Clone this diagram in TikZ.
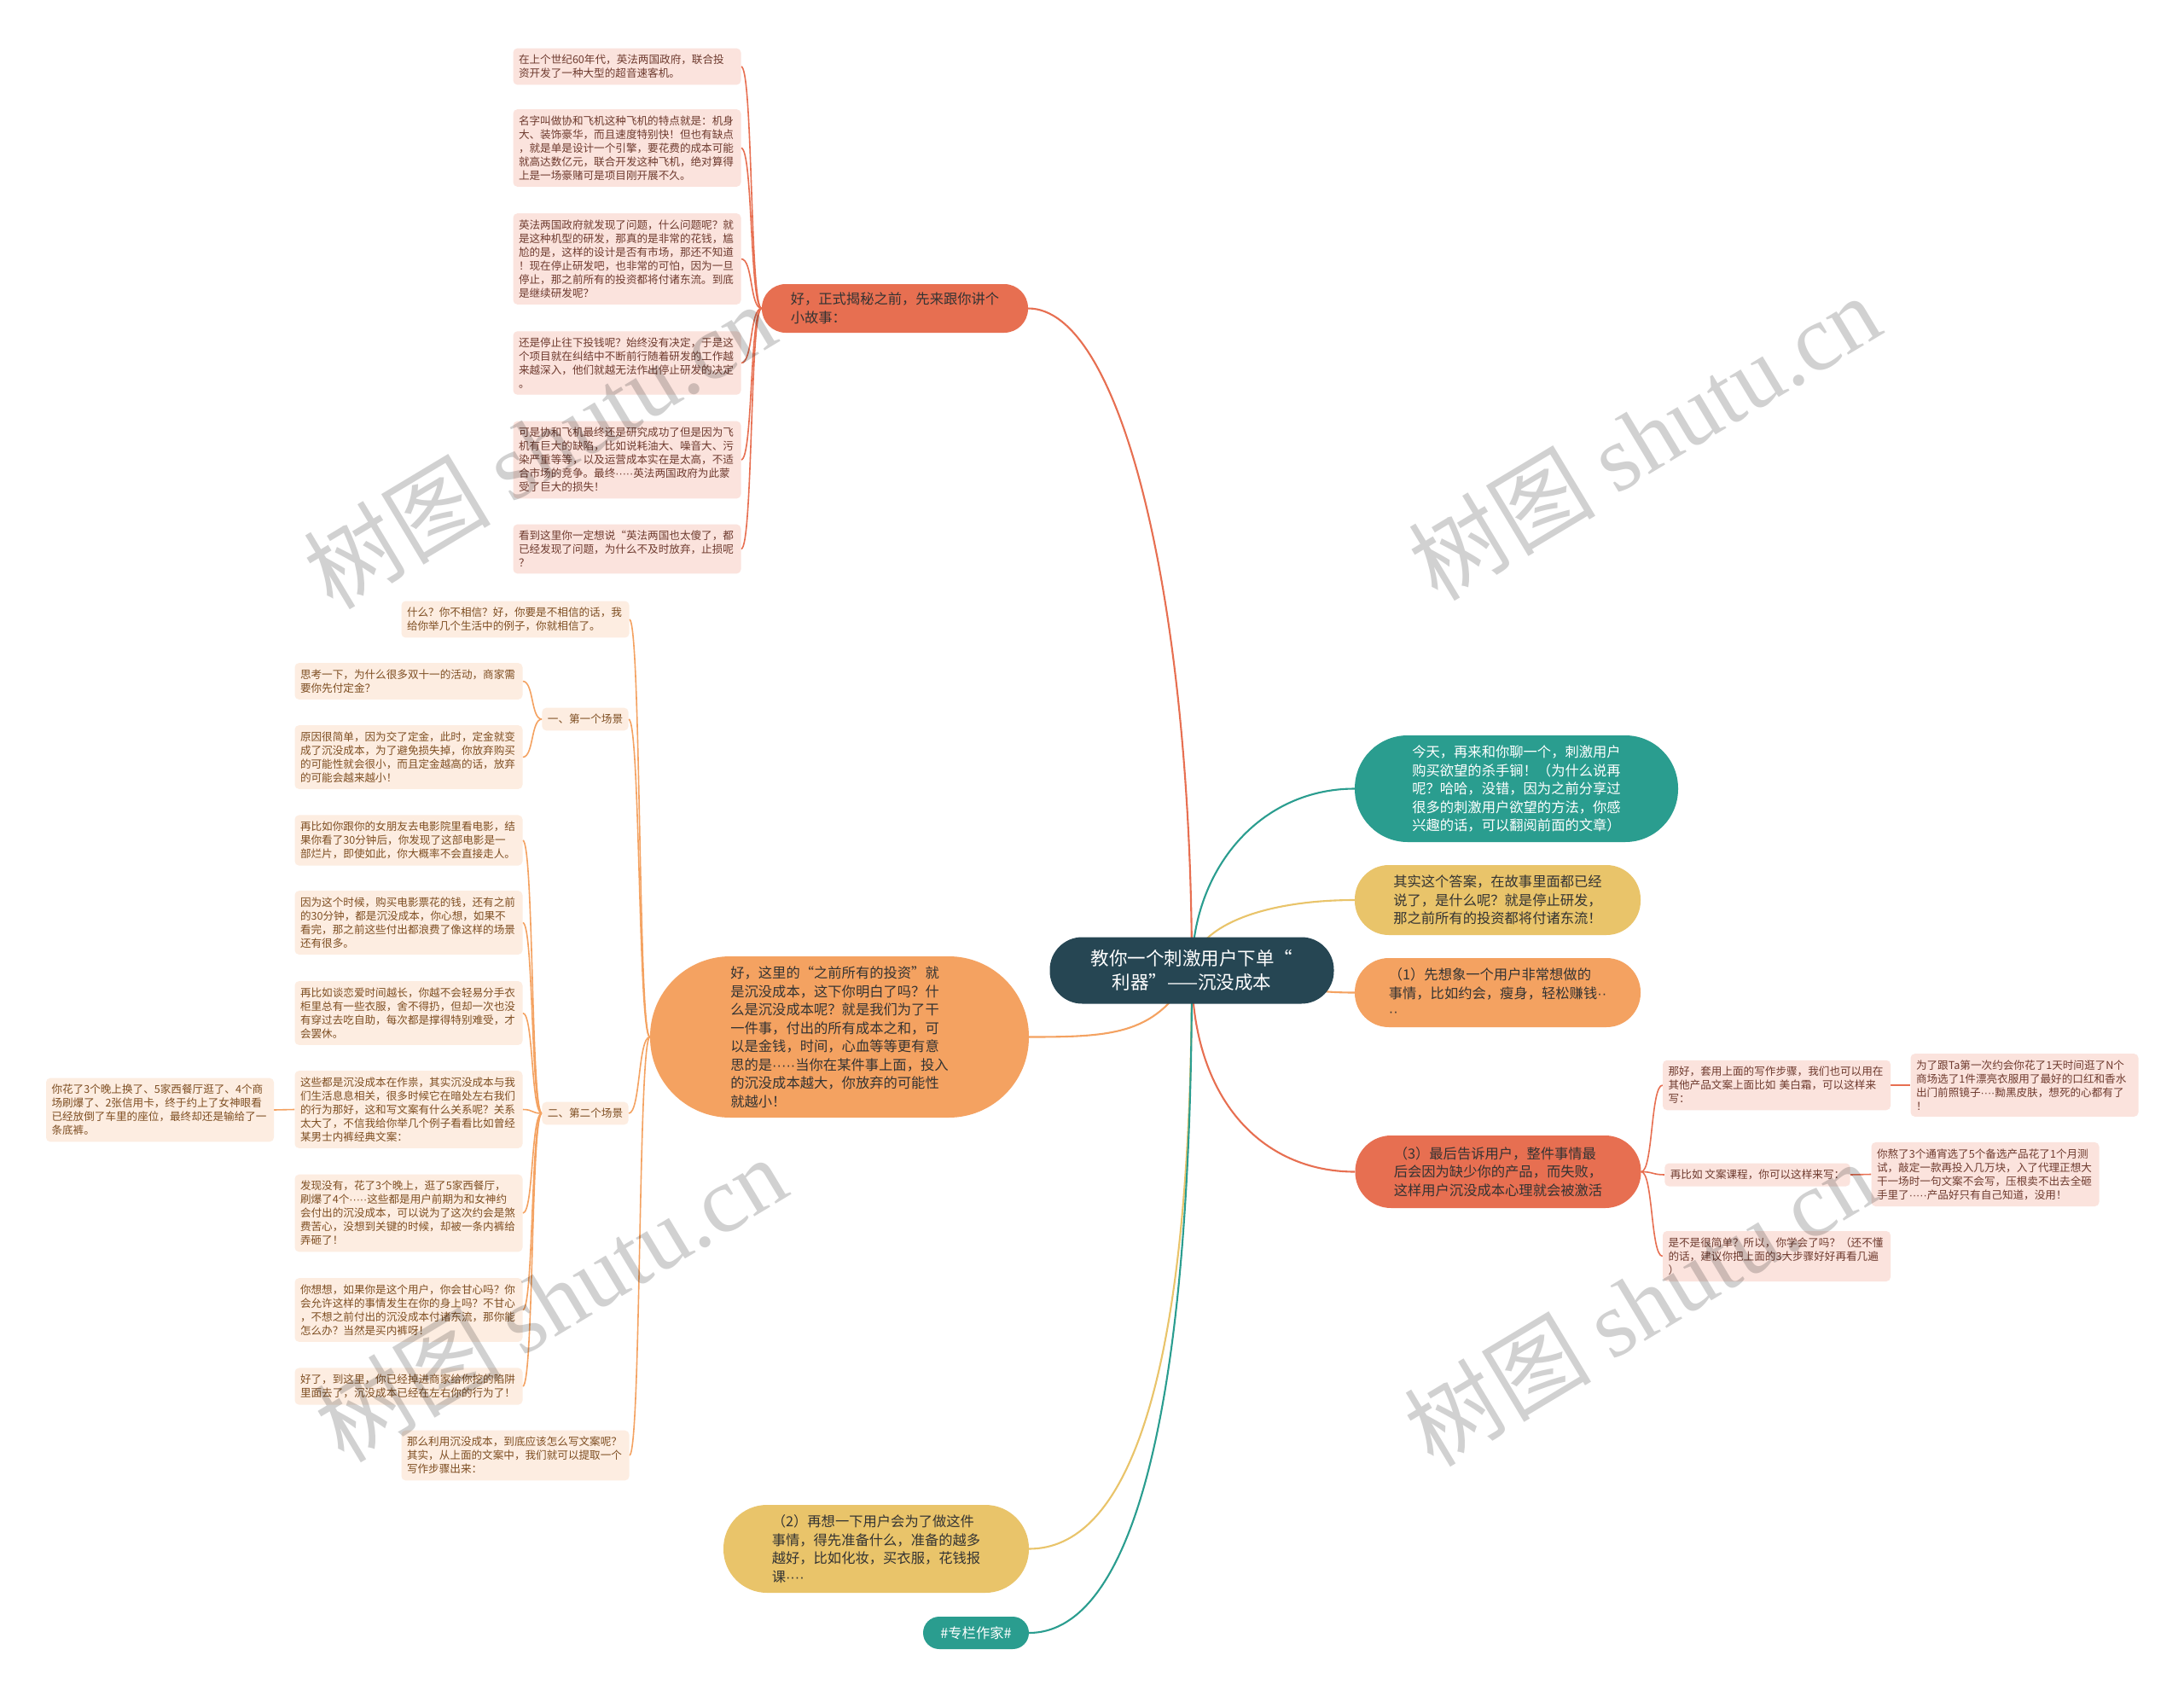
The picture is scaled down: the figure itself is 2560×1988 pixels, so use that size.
\documentclass[tikz,border=0pt]{standalone}
\usepackage{fontspec}
\setmainfont{Noto Sans CJK SC}
\newfontfamily\wmserif{Liberation Serif}
\newfontfamily\dotf{Liberation Sans}
\usetikzlibrary{backgrounds}
\definecolor{cRoot}{HTML}{264653}
\definecolor{cTeal}{HTML}{2A9D8F}
\definecolor{cYel}{HTML}{E9C46A}
\definecolor{cOra}{HTML}{F4A261}
\definecolor{cRed}{HTML}{E76F51}
\definecolor{cRedLeaf}{HTML}{FBE3DD}
\definecolor{cOraLeaf}{HTML}{FDEDE1}
\definecolor{cRedTxt}{HTML}{6E3A2E}
\definecolor{cOraTxt}{HTML}{7E4E22}
\definecolor{cDark}{HTML}{333333}
\begin{document}
\begin{tikzpicture}[x=1pt,y=-1pt,
  leaf/.style={rectangle, rounded corners=5pt, inner xsep=6.5pt, inner ysep=7.5pt, align=left, font=\fontsize{12.6}{16}\selectfont},
  wideleaf/.style={leaf, text width=254pt},
  rl/.style={wideleaf, fill=cRedLeaf, text=cRedTxt},
  ol/.style={wideleaf, fill=cOraLeaf, text=cOraTxt},
  pill/.style n args={3}{rectangle, inner sep=0pt, minimum width=#1, minimum height=#2, rounded corners=#3, align=left, font=\fontsize{16.3}{21.5}\selectfont, text=cDark},
  mainedge/.style={line width=2.1pt},
  subedge/.style={line width=1.6pt},
  wm/.style={rotate=31, text=black, opacity=0.18, font=\fontsize{110}{110}\selectfont}
]
\begin{scope}[on background layer]
\fill[white] (0,0) rectangle (2560,1988);
\end{scope}
\useasboundingbox (0,0) rectangle (2560,1988);

% root and main branches
\node[pill={333pt}{78pt}{38pt}, fill=cRoot, text=white, align=center, font=\fontsize{21.5}{28}\selectfont] (root) at (1397,1137.5) {教你一个刺激用户下单“\\利器”——沉没成本};
\node[pill={312pt}{57pt}{28pt}, fill=cRed] (b1) at (1049,361.5) {好，正式揭秘之前，先来跟你讲个\\小故事：};
\node[pill={379pt}{125pt}{62pt}, fill=cTeal, text=white] (teal) at (1777.5,924.5) {今天，再来和你聊一个，刺激用户\\购买欲望的杀手锏！（为什么说再\\呢？哈哈，没错，因为之前分享过\\很多的刺激用户欲望的方法，你感\\兴趣的话，可以翻阅前面的文章）};
\node[pill={335pt}{82pt}{40pt}, fill=cYel] (yel1) at (1755.5,1055) {其实这个答案，在故事里面都已经\\说了，是什么呢？就是停止研发，\\那之前所有的投资都将付诸东流！};
\node[pill={335pt}{81pt}{40pt}, fill=cOra] (ora1) at (1755.5,1163.5) {（1）先想象一个用户非常想做的\\事情，比如约会，瘦身，轻松赚钱{\dotf ··}\\{\dotf ··}};
\node[pill={335pt}{85pt}{42pt}, fill=cRed] (red3) at (1756,1373.5) {（3）最后告诉用户，整件事情最\\后会因为缺少你的产品，而失败，\\这样用户沉没成本心理就会被激活};
\node[pill={444pt}{189pt}{94pt}, fill=cOra] (lm) at (984,1215.5) {好，这里的“之前所有的投资”就\\是沉没成本，这下你明白了吗？什\\么是沉没成本呢？就是我们为了干\\一件事，付出的所有成本之和，可\\以是金钱，时间，心血等等更有意\\思的是{\dotf ·····}当你在某件事上面，投入\\的沉没成本越大，你放弃的可能性\\就越小！};
\node[pill={358pt}{103pt}{51pt}, fill=cYel] (yel2) at (1027,1815.5) {（2）再想一下用户会为了做这件\\事情，得先准备什么，准备的越多\\越好，比如化妆，买衣服，花钱报\\课{\dotf ····}};
\node[pill={124pt}{38pt}{19pt}, fill=cTeal, text=white, align=center] (tag) at (1144,1914) {\#专栏作家\#};

% story leaves
\node[rl] (L1) at (735,78) {在上个世纪60年代，英法两国政府，联合投\\资开发了一种大型的超音速客机。};
\node[rl] (L2) at (735,173.5) {名字叫做协和飞机这种飞机的特点就是：机身\\大、装饰豪华，而且速度特别快！但也有缺点\\，就是单是设计一个引擎，要花费的成本可能\\就高达数亿元，联合开发这种飞机，绝对算得\\上是一场豪赌可是项目刚开展不久。};
\node[rl] (L3) at (735,303.5) {英法两国政府就发现了问题，什么问题呢？就\\是这种机型的研发，那真的是非常的花钱，尴\\尬的是，这样的设计是否有市场，那还不知道\\！现在停止研发吧，也非常的可怕，因为一旦\\停止，那之前所有的投资都将付诸东流。到底\\是继续研发呢？};
\node[rl] (L4) at (735,425.5) {还是停止往下投钱呢？始终没有决定，于是这\\个项目就在纠结中不断前行随着研发的工作越\\来越深入，他们就越无法作出停止研发的决定\\。};
\node[rl] (L5) at (735,539) {可是协和飞机最终还是研究成功了但是因为飞\\机有巨大的缺陷，比如说耗油大、噪音大、污\\染严重等等，以及运营成本实在是太高，不适\\合市场的竞争。最终{\dotf ·····}英法两国政府为此蒙\\受了巨大的损失！};
\node[rl] (L6) at (735,643.5) {看到这里你一定想说“英法两国也太傻了，都\\已经发现了问题，为什么不及时放弃，止损呢\\？};

% left branch
\node[ol] (A1) at (604,726) {什么？你不相信？好，你要是不相信的话，我\\给你举几个生活中的例子，你就相信了。};
\node[leaf, fill=cOraLeaf, text=cOraTxt] (S1) at (686,843) {一、第一个场景};
\node[ol] (S1a) at (479,798.5) {思考一下，为什么很多双十一的活动，商家需\\要你先付定金？};
\node[ol] (S1b) at (479,887.5) {原因很简单，因为交了定金，此时，定金就变\\成了沉没成本，为了避免损失掉，你放弃购买\\的可能性就会很小，而且定金越高的话，放弃\\的可能会越来越小！};
\node[leaf, fill=cOraLeaf, text=cOraTxt] (S2) at (686,1305) {二、第二个场景};
\node[ol] (S2a) at (479,985) {再比如你跟你的女朋友去电影院里看电影，结\\果你看了30分钟后，你发现了这部电影是一\\部烂片，即使如此，你大概率不会直接走人。};
\node[ol] (S2b) at (479,1081.5) {因为这个时候，购买电影票花的钱，还有之前\\的30分钟，都是沉没成本，你心想，如果不\\看完，那之前这些付出都浪费了像这样的场景\\还有很多。};
\node[ol] (S2c) at (479,1187.5) {再比如谈恋爱时间越长，你越不会轻易分手衣\\柜里总有一些衣服，舍不得扔，但却一次也没\\有穿过去吃自助，每次都是撑得特别难受，才\\会罢休。};
\node[ol] (S2d) at (479,1300.5) {这些都是沉没成本在作祟，其实沉没成本与我\\们生活息息相关，很多时候它在暗处左右我们\\的行为那好，这和写文案有什么关系呢？关系\\太大了，不信我给你举几个例子看看比如曾经\\某男士内裤经典文案：};
\node[ol] (S2d1) at (187.5,1301) {你花了3个晚上换了、5家西餐厅逛了、4个商\\场刷爆了、2张信用卡，终于约上了女神眼看\\已经放倒了车里的座位，最终却还是输给了一\\条底裤。};
\node[ol] (S2e) at (479,1422) {发现没有，花了3个晚上，逛了5家西餐厅，\\刷爆了4个{\dotf ·····}这些都是用户前期为和女神约\\会付出的沉没成本，可以说为了这次约会是煞\\费苦心，没想到关键的时候，却被一条内裤给\\弄砸了！};
\node[ol] (S2f) at (479,1535.5) {你想想，如果你是这个用户，你会甘心吗？你\\会允许这样的事情发生在你的身上吗？不甘心\\，不想之前付出的沉没成本付诸东流，那你能\\怎么办？当然是买内裤呀！};
\node[ol] (S2g) at (479,1625) {好了，到这里，你已经掉进商家给你挖的陷阱\\里面去了，沉没成本已经在左右你的行为了！};
\node[ol] (A2) at (604,1706) {那么利用沉没成本，到底应该怎么写文案呢？\\其实，从上面的文案中，我们就可以提取一个\\写作步骤出来：};

% right red branch leaves
\node[rl] (C1) at (2082.5,1272) {那好，套用上面的写作步骤，我们也可以用在\\其他产品文案上面比如 美白霜，可以这样来\\写：};
\node[rl] (C1c) at (2373,1272) {为了跟Ta第一次约会你花了1天时间逛了N个\\商场选了1件漂亮衣服用了最好的口红和香水\\出门前照镜子{\dotf ····}黝黑皮肤，想死的心都有了\\！};
\node[leaf, fill=cRedLeaf, text=cRedTxt] (C2) at (2060,1377) {再比如 文案课程，你可以这样来写：};
\node[rl] (C2c) at (2327,1376.5) {你熬了3个通宵选了5个备选产品花了1个月测\\试，敲定一款再投入几万块，入了代理正想大\\干一场时一句文案不会写，压根卖不出去全砸\\手里了{\dotf ·····}产品好只有自己知道，没用！};
\node[rl] (C3) at (2082.5,1472.5) {是不是很简单？所以，你学会了吗？（还不懂\\的话，建议你把上面的3大步骤好好再看几遍\\）};

% connectors
\begin{scope}[on background layer]
\draw[mainedge,cRed] (root.center) .. controls +(0,-430) and +(110,0) .. (b1.east);
\draw[mainedge,cTeal] (root.center) .. controls +(0,-120) and +(-110,0) .. (teal.west);
\draw[mainedge,cYel] (root.center) .. controls +(0,-50) and +(-110,0) .. (yel1.west);
\draw[mainedge,cOra] (root.center) .. controls +(100,0) and +(-100,0) .. (ora1.west);
\draw[mainedge,cRed] (root.center) .. controls +(0,150) and +(-110,0) .. (red3.west);
\draw[mainedge,cOra] (root.center) .. controls +(-40,75) and +(100,0) .. (lm.east);
\draw[mainedge,cYel] (root.center) .. controls +(0,500) and +(110,0) .. (yel2.east);
\draw[mainedge,cTeal] (root.center) .. controls +(0,560) and +(110,0) .. (tag.east);
\foreach \n in {L1,L2,L3,L4,L5,L6}
  \draw[subedge,cRed] (b1.west) .. controls +(-14,0) and +(14,0) .. (\n.east);
\foreach \n in {A1,S1,S2,A2}
  \draw[subedge,cOra] (lm.west) .. controls +(-14,0) and +(14,0) .. (\n.east);
\foreach \n in {S1a,S1b}
  \draw[subedge,cOra] (S1.west) .. controls +(-13,0) and +(13,0) .. (\n.east);
\foreach \n in {S2a,S2b,S2c,S2d,S2e,S2f,S2g}
  \draw[subedge,cOra] (S2.west) .. controls +(-13,0) and +(13,0) .. (\n.east);
\draw[subedge,cOra] (S2d.west) -- (S2d1.east);
\foreach \n in {C1,C2,C3}
  \draw[subedge,cRed] (red3.east) .. controls +(14,0) and +(-14,0) .. (\n.west);
\draw[subedge,cRed] (C1.east) -- (C1c.west);
\draw[subedge,cRed] (C2.east) -- (C2c.west);
\end{scope}

% watermarks
\node[wm] (wm1) at (632,522) {树图 {\wmserif shutu.cn}};
\node[wm] (wm2) at (1927,512) {树图 {\wmserif shutu.cn}};
\node[wm] (wm3) at (645,1522) {树图 {\wmserif shutu.cn}};
\node[wm] (wm4) at (1922,1527) {树图 {\wmserif shutu.cn}};
\end{tikzpicture}
\end{document}
